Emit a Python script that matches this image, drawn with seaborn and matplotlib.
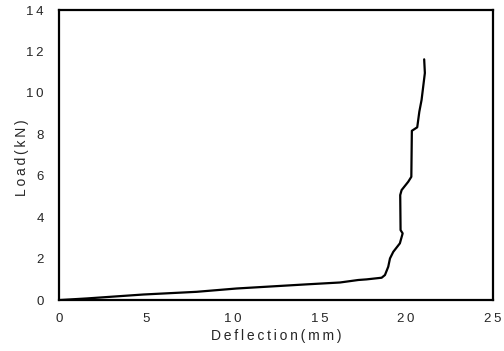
import matplotlib
matplotlib.use("Agg")
import matplotlib.pyplot as plt
import pandas as pd
import seaborn as sns

# load-deflection curve
deflection = [0.0, 1.6, 4.86, 7.93, 10.23, 14.27, 16.19, 17.24, 17.72, 18.59, 18.78,
              18.97, 19.07, 19.26, 19.64, 19.80, 19.68, 19.66, 19.74, 20.12, 20.30,
              20.33, 20.64, 20.76, 20.89, 21.08, 21.04]
load = [0.0, 0.08, 0.27, 0.40, 0.56, 0.76, 0.85, 0.97, 1.00, 1.08, 1.21,
        1.61, 2.01, 2.33, 2.74, 3.22, 3.38, 5.07, 5.31, 5.71, 5.95,
        8.17, 8.34, 9.09, 9.66, 10.96, 11.62]

xticks = [0, 5, 10, 15, 20, 25]
yticks = [0, 2, 4, 6, 8, 10, 12, 14]


def spaced(s):
    # the scanned figure has loosely tracked letters
    return "\u2009".join(s)


df = pd.DataFrame({"Deflection": deflection, "Load": load})

sns.set_style("white")
plt.rcParams["font.family"] = ["Liberation Sans", "DejaVu Sans"]

fig = plt.figure(figsize=(5.04, 3.51), dpi=100)
ax = fig.add_axes([0.117, 0.145, 0.861, 0.8265])
sns.lineplot(data=df, x="Deflection", y="Load", sort=False, color="black",
             linewidth=1.6, ax=ax)

ax.set_xlim(0, 25)
ax.set_ylim(0, 14)
ax.set_xticks(xticks)
ax.set_yticks(yticks)
ax.set_xticklabels([spaced(str(t)) for t in xticks])
ax.set_yticklabels([spaced(str(t)) for t in yticks])
ax.tick_params(axis="both", length=0, labelsize=9.5)
ax.tick_params(axis="x", pad=9)
ax.tick_params(axis="y", pad=11)
for s in ax.spines.values():
    s.set_color("black")
    s.set_linewidth(1.6)

ax.set_xlabel(spaced("Deflection(mm)"), fontsize=10)
ax.set_ylabel(spaced("Load(kN)"), fontsize=10)
ax.xaxis.set_label_coords(0.5, -0.10)
ax.yaxis.set_label_coords(-0.068, 0.49)

fig.savefig("out.png", dpi=100)
